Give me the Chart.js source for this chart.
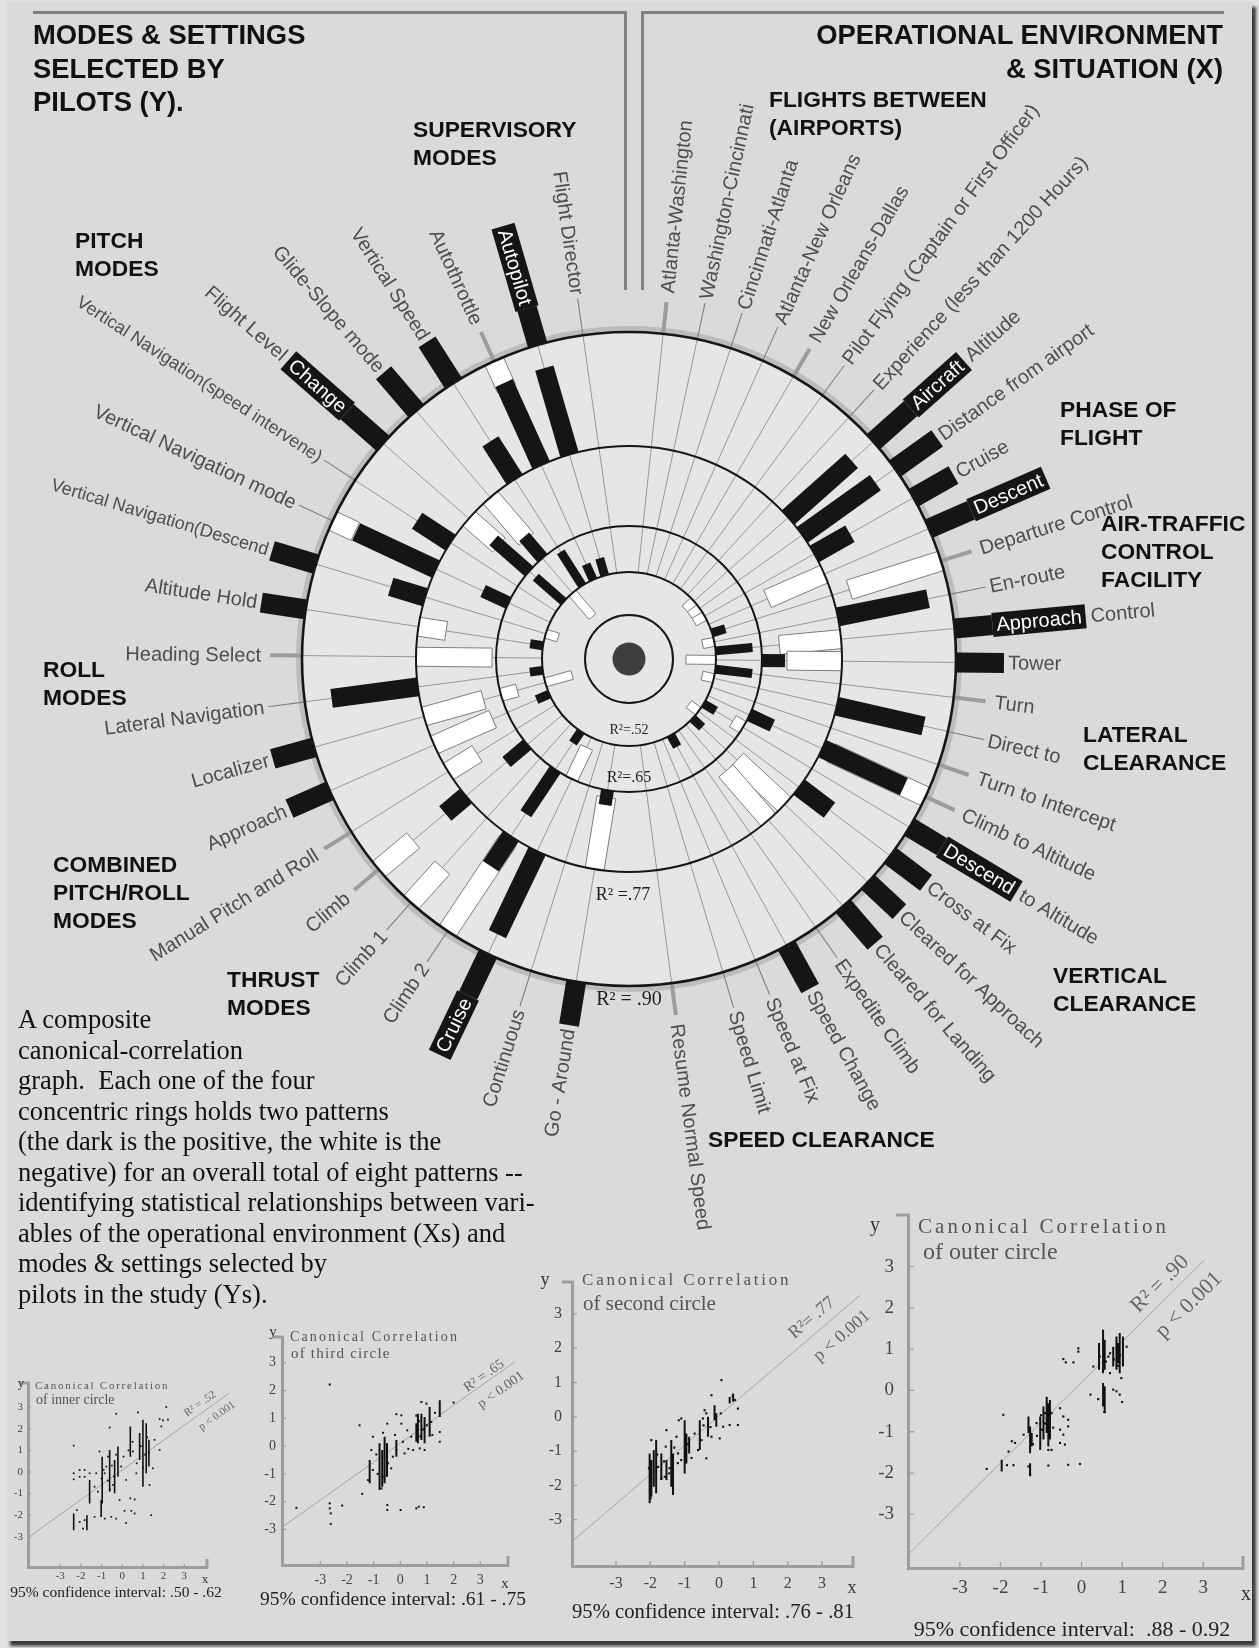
<!DOCTYPE html>
<html>
<head>
<meta charset="utf-8">
<script src="https://cdn.jsdelivr.net/npm/chart.js@4/dist/chart.umd.min.js"></script>
<style>
  html, body { margin: 0; padding: 0; background: #e2e2e3; }
  #page { position: relative; width: 1259px; height: 1648px; overflow: hidden; background: #e2e2e3; }
  #panel { position: absolute; left: 6px; top: 2px; width: 1246px; height: 1639px; background: #d9dadc; box-shadow: 4px 5px 3px #3a3a3a; }
  canvas { position: absolute; }
  .head { position: absolute; font-family: "Liberation Sans", Arial, sans-serif; font-weight: bold; font-size: 22.8px; line-height: 28px; color: #111; white-space: nowrap; }
  .big { font-size: 27.4px; line-height: 33.5px; }
  .rule { position: absolute; background: #808080; }
  #desc { position: absolute; left: 18px; top: 1004px; font-family: "Liberation Serif", "Times New Roman", serif; font-size: 26.5px; line-height: 30.5px; color: #111; white-space: nowrap; }
</style>
</head>
<body>
<div id="page">
  <div id="panel"></div>
  <canvas id="wheel" width="1259" height="1648" style="left:0;top:0"></canvas>

  <div class="rule" style="left:33px;top:11px;width:594px;height:3px"></div>
  <div class="rule" style="left:624px;top:11px;width:3px;height:279px"></div>
  <div class="rule" style="left:641px;top:11px;width:3px;height:279px"></div>
  <div class="rule" style="left:641px;top:11px;width:583px;height:3px"></div>

  <div class="head big" style="left:33px;top:18px">MODES &amp; SETTINGS<br>SELECTED BY<br>PILOTS (Y).</div>
  <div class="head big" style="right:36px;top:18px;text-align:right">OPERATIONAL ENVIRONMENT<br>&amp; SITUATION (X)</div>
  <div class="head" style="left:413px;top:115px">SUPERVISORY<br>MODES</div>
  <div class="head" style="left:75px;top:226px">PITCH<br>MODES</div>
  <div class="head" style="left:769px;top:85px">FLIGHTS BETWEEN<br>(AIRPORTS)</div>
  <div class="head" style="left:1060px;top:395px">PHASE OF<br>FLIGHT</div>
  <div class="head" style="left:1101px;top:509px">AIR-TRAFFIC<br>CONTROL<br>FACILITY</div>
  <div class="head" style="left:43px;top:655px">ROLL<br>MODES</div>
  <div class="head" style="left:1083px;top:720px">LATERAL<br>CLEARANCE</div>
  <div class="head" style="left:53px;top:850px">COMBINED<br>PITCH/ROLL<br>MODES</div>
  <div class="head" style="left:1053px;top:961px">VERTICAL<br>CLEARANCE</div>
  <div class="head" style="left:227px;top:965px">THRUST<br>MODES</div>
  <div class="head" style="left:708px;top:1125px">SPEED CLEARANCE</div>

  <div id="desc">A composite<br>canonical-correlation<br>graph.&nbsp; Each one of the four<br>concentric rings holds two patterns<br>(the dark is the positive, the white is the<br>negative) for an overall total of eight patterns --<br>identifying statistical relationships between vari-<br>ables of the operational environment (Xs) and<br>modes &amp; settings selected by<br>pilots in the study (Ys).</div>

  <canvas id="plot1"></canvas>
  <canvas id="plot2"></canvas>
  <canvas id="plot3"></canvas>
  <canvas id="plot4"></canvas>
</div>

<script>
'use strict';

/* #################### data #################### */
//  X variables, clockwise from the top (right half of the wheel)
const xVars = ['Atlanta-Washington', 'Washington-Cincinnati', 'Cincinnati-Atlanta', 'Atlanta-New Orleans',
  'New Orleans-Dallas', 'Pilot Flying (Captain or First Officer)', 'Experience (less than 1200 Hours)',
  'Aircraft Altitude', 'Distance from airport', 'Cruise', 'Descent', 'Departure Control', 'En-route',
  'Approach Control', 'Tower', 'Turn', 'Direct to', 'Turn to Intercept', 'Climb to Altitude',
  'Descend to Altitude', 'Cross at Fix', 'Cleared for Approach', 'Cleared for Landing', 'Expedite Climb',
  'Speed Change', 'Speed at Fix', 'Speed Limit', 'Resume Normal Speed'];

//  Y variables, clockwise from the bottom (left half of the wheel)
const yVars = ['Go - Around', 'Continuous', 'Cruise', 'Climb 2', 'Climb 1', 'Climb', 'Manual Pitch and Roll',
  'Approach', 'Localizer', 'Lateral Navigation', 'Heading Select', 'Altitude Hold',
  'Vertical Navigation(Descend', 'Vertical Navigation mode', 'Vertical Navigation(speed intervene)',
  'Flight Level Change', 'Glide-Slope mode', 'Vertical Speed', 'Autothrottle', 'Autopilot', 'Flight Director'];

//  loadings per ring (xVars then yVars): + dark bar outward, - white bar inward
const ring52 = [
  0, 0, 0, 0, 0, 0, 0, -0.12, -0.12, -0.12, 0, 0.14, -0.12, 0.37, -0.30, 0.37, -0.12, 0, 0, 0.14, -0.12, 0.13, 0, 0, 0.13, 0, 0, 0,
  0, 0, 0, 0.14, 0, 0, 0, 0.14, -0.28, 0.13, 0, 0.13, -0.13, 0, 0, 0.37, -0.31, 0.40, 0.17, 0.18, 0];
const ring65 = [
  0, 0, 0, 0, 0, 0, 0, 0, 0, 0, 0, 0, 0, 0, 0.23, 0, 0, 0, 0.25, -0.12, 0, 0, 0, 0, 0, 0, 0, 0,
  0.15, 0, -0.35, 0.53, 0, 0.27, 0, 0, -0.17, 0, 0, 0, 0, 0.28, 0, 0.47, 0.28, 0, 0, 0, 0];
const ring77 = [
  0, 0, 0, 0, 0, 0, 0, 0.85, 0.90, 0.41, -0.62, 0, 0.92, -0.62, -0.55, 0, 0.89, 0, 0.90, 0, 0.38, -0.65, -0.65, 0, 0, 0, 0, 0,
  -0.73, 0, 0.92, 0.36, 0, 0.27, -0.34, -0.64, -0.62, 0.87, -0.76, -0.28, 0.36, 0.88, 0.40, -0.40, -0.55, 0.45, 0.90, 0.90, 0];
const ring90 = [
  0, 0, 0, 0, 0, 0, 0, 0.50, 0.52, 0.46, 0.46, -0.96, 0, 0.38, 0.48, 0, 0, 0, -1.04, 0.38, 0.45, 0.43, 0.49, 0, 0.49, 0, 0, 0,
  0.44, 0, 0.46, -1.08, -0.47, -0.45, 0, 0.44, 0.43, 0, 0, 0.45, 0.46, -0.25, 0, 0.48, 0.50, 0.49, -0.30, 0.38, 0];
const ringNames = ['R²=.52', 'R²=.65', 'R² =.77', 'R² = .90'];

//  scatter plots: dots [x, y], vertical streaks [x, yFrom, yTo], fitted line ends
const axisTicks = [-3, -2, -1, 0, 1, 2, 3];

const p1Dots = [[-2.35, 1.22], [-2.35, -0.06], [-2.35, -0.34], [-2.06, 0.09], [-2.06, -0.22], [-1.82, 0.09],
  [-1.82, -0.22], [-2.19, -1.77], [-2.06, -2.31], [-1.82, -2.23], [-1.90, -2.62], [-1.34, -2.08], [-0.85, -2.16],
  [-0.53, -2.08], [-0.29, -2.16], [0.11, -1.80], [0.44, -1.80], [0.60, -1.92], [0.19, -2.36], [1.40, -2.00],
  [0.39, -1.22], [0.60, -1.27], [-0.61, 2.06], [-0.29, 2.70], [0.76, 2.76], [2.13, 3.01], [1.81, 2.45],
  [1.97, 2.39], [2.21, 2.42], [1.89, 2.11], [1.81, 1.02], [1.56, 1.49], [1.48, 0.17], [-1.10, 0.95],
  [-0.85, -0.06], [-1.34, -0.68], [-1.18, -0.91], [-0.45, -0.60], [-0.05, 0.25], [0.06, 0.71], [0.52, 0.95],
  [0.68, -0.06], [0.19, -0.37], [1.32, -0.60], [-0.77, 0.25], [-0.13, -1.30], [-0.69, 0.71], [-1.26, -0.06],
  [-1.58, -0.06], [-0.50, 0.30], [-0.40, -0.20], [-0.70, -0.40], [-0.90, 0.10], [0.90, 1.20], [1.10, 0.80],
  [0.70, 0.40], [1.20, 1.60], [0.50, 1.40], [1.00, 0.20], [-0.30, 0.80], [-1.00, -0.30], [1.30, 0.90],
  [0.30, 1.00], [-0.60, -0.80]];
const p1Streaks = [[-2.35, -1.92, -2.70], [-1.58, -0.37, -1.46], [-1.71, -2.00, -2.70], [-0.97, 0.71, -1.46],
  [-0.61, 1.02, -0.91], [-0.37, 0.56, -0.99], [-0.21, 1.18, -0.22], [0.39, 2.11, 0.71], [0.84, 1.80, 0.56],
  [1.00, 2.42, -0.68], [1.16, 2.26, -0.06], [1.29, 1.49, 0.25], [-1.02, -1.30, -2.08]];
const p1Fit = [[-4.56, -3.04], [5.19, 3.66]];

const p2Dots = [[-2.65, 2.22], [-1.53, 0.75], [-3.90, -2.22], [-2.65, -2.06], [-2.65, -2.24], [-2.61, -2.42],
  [-2.18, -2.14], [-2.61, -2.80], [-1.43, -1.72], [-0.49, -2.12], [-0.49, -2.30], [0.01, -2.30], [0.60, -2.24],
  [0.69, -2.18], [0.88, -2.20], [-0.49, 0.81], [-0.65, 0.48], [-1.03, 0.34], [-0.15, 1.15], [0.04, 1.11],
  [0.04, 0.81], [0.26, 0.57], [0.41, 0.34], [0.48, -0.14], [0.16, -0.26], [-0.28, -0.38], [-0.15, -0.14],
  [0.10, 0.16], [0.91, -0.14], [0.73, -0.08], [0.98, 1.53], [0.79, 1.59], [2.00, 1.57], [1.48, 0.51],
  [1.48, 0.16], [1.16, 0.87], [-1.09, -0.14], [-1.03, -0.86], [-1.21, -1.22], [-0.71, -1.52], [-0.46, -0.62],
  [-0.34, -0.80], [0.70, 0.90], [0.85, 0.60], [1.00, 0.75], [0.60, 1.10], [1.20, 0.40], [0.75, 0.35],
  [-0.90, -0.30], [-0.85, -1.00], [-0.60, -1.10], [-0.20, 0.40], [0.30, -0.10], [1.30, 1.20]];
const p2Streaks = [[-0.78, 0.10, -1.58], [-0.68, -0.14, -1.46], [-0.59, 0.34, -1.34], [-0.50, 0.10, -1.10],
  [-1.15, -0.50, -1.34], [0.66, 1.17, 0.10], [0.79, 1.17, 0.22], [0.91, 1.05, 0.10], [1.10, 1.41, 0.34],
  [1.48, 1.65, 1.05], [-0.15, 0.22, -0.38], [0.60, 0.82, 0.16]];
const p2Fit = [[-4.44, -2.92], [4.29, 3.03]];

const p3Dots = [[-0.22, 0.63], [0.07, 1.07], [-0.42, 0.19], [-0.37, 0.10], [-0.47, -0.05], [-1.10, -0.05],
  [-1.17, -0.10], [-1.53, -0.39], [-1.55, -0.87], [-1.24, -0.58], [-1.19, -1.07], [-1.10, -1.26], [-0.71, -0.49],
  [-0.51, -0.68], [-0.37, -1.21], [-0.61, -0.97], [-0.22, -0.58], [0.02, -0.63], [0.12, -0.29], [0.31, -0.24],
  [0.55, -0.24], [0.46, 0.49], [0.55, 0.24], [-1.58, -1.75], [-1.68, -1.80], [-1.44, -1.50], [-1.78, -1.46],
  [-1.97, -0.68], [-2.04, -1.50], [-1.99, -2.38], [-1.60, -1.30], [-1.80, -1.10], [-1.30, -0.90], [-0.90, -0.80],
  [-0.80, -1.20], [-0.45, -0.25], [-0.25, -0.30], [0.05, 0.10], [0.40, 0.60], [-1.45, -1.65], [-1.20, -1.35]];
const p3Streaks = [[-2.02, -1.07, -2.52], [-1.97, -1.26, -2.33], [-1.90, -0.97, -2.04], [-1.83, -0.68, -2.23],
  [-1.68, -1.07, -1.84], [-1.53, -1.26, -1.84], [-1.39, -0.68, -2.04], [-1.34, -1.07, -2.28], [-1.00, -0.10, -1.65],
  [-0.95, -0.49, -1.36], [-0.87, -0.58, -1.07], [-0.56, -0.10, -0.97], [-0.32, 0.00, -0.58], [-0.13, 0.34, -0.10],
  [-0.08, 0.10, -0.29], [0.31, 0.58, 0.39], [0.41, 0.68, 0.44]];
const p3Fit = [[-4.25, -3.61], [4.10, 3.54]];

const p4Dots = [[-0.08, 1.02], [-0.08, 0.94], [-0.45, 0.76], [-0.39, 0.68], [-0.20, 0.68], [-1.93, -0.59],
  [0.22, -0.10], [0.41, -0.21], [0.78, 0.02], [0.86, -0.02], [0.94, -0.10], [1.00, -0.28], [0.56, -0.52],
  [-0.53, -0.43], [-0.45, -0.63], [-0.33, -0.71], [-0.33, -0.87], [-0.53, -0.95], [-0.45, -1.07], [-0.53, -1.27],
  [-0.41, -1.31], [-0.82, -1.44], [-0.74, -1.44], [-1.72, -1.23], [-1.64, -1.27], [-1.80, -1.48], [-2.34, -1.90],
  [-1.84, -1.81], [-1.68, -1.81], [-1.31, -1.84], [-1.27, -2.04], [-0.82, -1.82], [-0.33, -1.80], [-0.04, -1.78],
  [-1.43, -1.07], [-1.11, -0.79], [-0.74, -0.55], [-0.98, -0.95], [-0.90, -0.55], [0.29, 0.58], [0.66, 0.82],
  [1.11, 1.06], [0.45, 0.82], [0.70, 0.42], [0.98, 0.30], [0.60, 0.70], [0.70, 0.90], [0.80, 0.75], [0.90, 0.60],
  [0.55, 0.95], [0.95, 0.85], [-0.90, -0.80], [-0.80, -0.50], [-1.10, -1.10], [-1.20, -1.30], [-0.70, -0.90],
  [-1.00, -0.60]];
const p4Streaks = [[0.53, 1.47, 0.42], [0.57, 1.23, 0.50], [0.43, 1.15, 0.50], [0.86, 1.31, 0.50],
  [0.94, 1.39, 0.42], [1.02, 1.31, 0.58], [0.90, 1.15, 0.66], [0.78, 1.06, 0.58], [0.53, 0.18, -0.39],
  [0.57, 0.10, -0.55], [-0.86, -0.15, -1.03], [-0.82, -0.31, -1.36], [-0.78, -0.23, -1.19], [-0.94, -0.39, -1.19],
  [-1.02, -0.63, -1.44], [-1.27, -0.87, -1.52], [-1.23, -1.03, -1.36], [-1.31, -0.63, -1.03], [-1.97, -1.68, -1.96],
  [-1.27, -1.76, -2.08]];
const p4Fit = [[-4.28, -3.98], [3.03, 3.16]];

/* #################### wheel layout & styles #################### */
const SANS = '"Liberation Sans", Arial, sans-serif';
const SERIF = '"Liberation Serif", "Times New Roman", serif';
const allVars = xVars.concat(yVars);
const ringSeries = [ring52, ring65, ring77, ring90];
const ringRadius = [87, 133, 213, 327];  //  base circle of each ring
const ringBarWidth = [9, 13, 19, 20];
const innerRadius = 44;
const LOADING_PX = 100;  //  radial length of a loading of 1.0
const ringLabelRadius = [71, 119, 236, 341];
const ringLabelSize = [14, 16, 18, 20];
//  spoke angles (degrees clockwise from the top), as spaced in the original
const xAngles = [6.0, 12.05, 18.1, 24.15, 30.2, 36.25, 42.3, 48.35, 54.4, 60.45, 66.5, 72.55, 78.6, 84.65,
  90.6, 96.75, 102.8, 108.85, 114.9, 120.95, 127.0, 133.05, 139.1, 145.15, 151.2, 157.25, 163.3, 172.5];
const yAngleStart = 189.3, yAngleStep = 8.13;
const darkLabelX = { 'Aircraft Altitude': 'Aircraft', 'Descent': 'Descent', 'Approach Control': 'Approach', 'Descend to Altitude': 'Descend' };
const darkLabelY = { 'Cruise': 'Cruise', 'Flight Level Change': 'Change', 'Autopilot': 'Autopilot' };
const thickLeaderX = ['Atlanta-Washington', 'New Orleans-Dallas', 'Departure Control', 'Turn', 'Turn to Intercept', 'Climb to Altitude', 'Resume Normal Speed'];
const thickLeaderY = ['Climb', 'Manual Pitch and Roll', 'Heading Select', 'Autothrottle'];
const smallLabelY = ['Vertical Navigation(Descend', 'Vertical Navigation(speed intervene)'];

function spokeAngle(idx) {
  if (idx < xVars.length) return xAngles[idx];
  return yAngleStart + (idx - xVars.length) * yAngleStep;
}

//  rectangle corners of a radial bar, in data units (y up)
function barCorners(theta, r0, r1, half) {
  const t = theta * Math.PI / 180;
  const ux = Math.sin(t), uy = Math.cos(t);
  const nx = Math.cos(t), ny = -Math.sin(t);
  return [
    { x: r0 * ux + half * nx, y: r0 * uy + half * ny },
    { x: r1 * ux + half * nx, y: r1 * uy + half * ny },
    { x: r1 * ux - half * nx, y: r1 * uy - half * ny },
    { x: r0 * ux - half * nx, y: r0 * uy - half * ny }
  ];
}

let wheelDatasets = [];
ringSeries.forEach(function (series, ring) {
  series.forEach(function (v, idx) {
    if (!v) return;
    const base = ringRadius[ring];
    wheelDatasets.push({
      label: ringNames[ring] + ' ' + allVars[idx],
      data: barCorners(spokeAngle(idx), base, base + v * LOADING_PX, ringBarWidth[ring] / 2),
      positive: v > 0,
      showLine: false,
      pointRadius: 0,
      pointHoverRadius: 0
    });
  });
});

function geometry(chart) {
  const { x, y } = chart.scales;
  const cx = x.getPixelForValue(0), cy = y.getPixelForValue(0);
  const k = (x.getPixelForValue(100) - cx) / 100;
  return {
    cx: cx, cy: cy, k: k,
    at: function (idx, r) {
      const t = spokeAngle(idx) * Math.PI / 180;
      return [cx + Math.sin(t) * r * k, cy - Math.cos(t) * r * k];
    }
  };
}

const wheelPainter = {
  id: 'wheelPainter',
  beforeDatasetsDraw(chart) {
    const ctx = chart.ctx;
    const g = geometry(chart);
    const outer = ringRadius[3] * g.k;
    ctx.save();
    //  soft rim and the light disc
    ctx.beginPath();
    ctx.arc(g.cx, g.cy, outer + 3, 0, Math.PI * 2);
    ctx.strokeStyle = 'rgba(80,80,80,0.22)';
    ctx.lineWidth = 6;
    ctx.stroke();
    ctx.beginPath();
    ctx.arc(g.cx, g.cy, outer, 0, Math.PI * 2);
    ctx.fillStyle = '#e6e6e8';
    ctx.fill();

    //  spokes
    ctx.strokeStyle = '#8e8e8e';
    ctx.lineWidth = 0.9;
    allVars.forEach(function (name, idx) {
      const a = g.at(idx, ringRadius[0]);
      const b = g.at(idx, ringRadius[3]);
      ctx.beginPath();
      ctx.moveTo(a[0], a[1]);
      ctx.lineTo(b[0], b[1]);
      ctx.stroke();
    });

    //  leader lines for labels without an outer bar
    allVars.forEach(function (name, idx) {
      if (ring90[idx] > 0) return;
      const thick = idx < xVars.length ? thickLeaderX.includes(name) : thickLeaderY.includes(name);
      const a = g.at(idx, ringRadius[3] + (thick ? 1 : 0));
      const b = g.at(idx, ringRadius[3] + (thick ? 32 : 37));
      ctx.beginPath();
      ctx.moveTo(a[0], a[1]);
      ctx.lineTo(b[0], b[1]);
      ctx.strokeStyle = thick ? '#9c9c9c' : '#808080';
      ctx.lineWidth = thick ? 4 : 1.1;
      ctx.stroke();
    });
    ctx.restore();
  },

  afterDatasetsDraw(chart) {
    const ctx = chart.ctx;
    const g = geometry(chart);
    ctx.save();

    //  bars: white patterns first, dark ones on top
    [false, true].forEach(function (dark) {
      chart.data.datasets.forEach(function (ds, i) {
        if (ds.positive !== dark) return;
        const pts = chart.getDatasetMeta(i).data;
        ctx.beginPath();
        pts.forEach(function (p, j) {
          if (j === 0) ctx.moveTo(p.x, p.y); else ctx.lineTo(p.x, p.y);
        });
        ctx.closePath();
        ctx.fillStyle = dark ? '#151515' : '#ffffff';
        ctx.fill();
        if (!dark) {
          ctx.strokeStyle = '#7e7e7e';
          ctx.lineWidth = 1;
          ctx.stroke();
        }
      });
    });

    //  rings
    ctx.strokeStyle = '#161616';
    [innerRadius].concat(ringRadius).forEach(function (r, i) {
      ctx.beginPath();
      ctx.arc(g.cx, g.cy, r * g.k, 0, Math.PI * 2);
      ctx.lineWidth = i === 4 ? 2.6 : 2;
      ctx.stroke();
    });
    ctx.beginPath();
    ctx.arc(g.cx, g.cy, 16.5 * g.k, 0, Math.PI * 2);
    ctx.fillStyle = '#3e3e3e';
    ctx.fill();

    //  ring labels
    ctx.fillStyle = '#1e1e1e';
    ctx.textAlign = 'center';
    ctx.textBaseline = 'middle';
    ringNames.forEach(function (txt, i) {
      ctx.font = ringLabelSize[i] + 'px ' + SERIF;
      ctx.fillText(txt, g.cx + (i === 2 ? -6 : 0), g.cy + ringLabelRadius[i] * g.k);
    });

    //  variable labels
    allVars.forEach(function (name, idx) {
      const theta = spokeAngle(idx) * Math.PI / 180;
      const right = idx < xVars.length;
      const dark = right ? darkLabelX[name] : darkLabelY[name];
      const outerBar = ring90[idx];
      const r = outerBar > 0 ? ringRadius[3] + outerBar * LOADING_PX + (dark ? 0 : 4) : ringRadius[3] + 41;
      const p = g.at(idx, r);
      ctx.save();
      ctx.font = (!right && smallLabelY.includes(name) ? '18px ' : '20px ') + SANS;
      ctx.translate(p[0], p[1]);
      ctx.rotate(right ? theta - Math.PI / 2 : theta + Math.PI / 2);
      ctx.textBaseline = 'middle';
      if (dark) {
        const rest = name.replace(dark, '').trim();
        const w = ctx.measureText(dark).width + 8;
        ctx.fillStyle = '#151515';
        ctx.fillRect(right ? 0 : -w, -12, w, 24);
        ctx.fillStyle = '#ffffff';
        ctx.textAlign = right ? 'left' : 'right';
        ctx.fillText(dark, right ? 4 : -4, 1);
        if (rest) {
          ctx.fillStyle = '#4e4e4e';
          ctx.fillText(rest, right ? w + 5 : -(w + 5), 1);
        }
      } else {
        ctx.fillStyle = '#4e4e4e';
        ctx.textAlign = right ? 'left' : 'right';
        ctx.fillText(name, 0, 1);
      }
      ctx.restore();
    });
    ctx.restore();
  }
};

Chart.defaults.font.family = SANS;
Chart.defaults.animation = false;

new Chart(document.getElementById('wheel'), {
  type: 'scatter',
  data: { datasets: wheelDatasets },
  options: {
    responsive: false,
    events: [],
    layout: { padding: 0 },
    scales: {
      x: { type: 'linear', display: false, min: -629, max: 630 },
      y: { type: 'linear', display: false, min: -989, max: 659 }
    },
    plugins: { legend: { display: false }, tooltip: { enabled: false } }
  },
  plugins: [wheelPainter]
});

/* #################### scatter plots #################### */
const plotSpecs = [
  { id: 'plot1', box: [0, 1360, 250, 250], area: [28, 1383, 207, 1567], xr: [-4.56, 4.10], yr: [-4.40, 4.12],
    dots: p1Dots, streaks: p1Streaks, fit: p1Fit, dot: 1.2, streak: 1.6, tick: 11, yw: 24, xh: 22, ypad: 5, xpad: 3, tl: 3, stub: 8,
    texts: [
      { t: 'y', x: 21, y: 1384, s: 13 }, { t: 'x', x: 205, y: 1580, s: 13 },
      { t: 'Canonical Correlation', x: 35, y: 1386, s: 11, a: 'left', ls: 1.75, c: '#555' },
      { t: 'of inner circle', x: 36, y: 1400, s: 14, a: 'left', c: '#555' },
      { t: 'R² = .52', x: 200, y: 1404, s: 11, rot: -35.5, c: '#666' },
      { t: 'p < 0.001', x: 217, y: 1416, s: 11, rot: -35.5, c: '#666' },
      { t: '95% confidence interval: .50 - .62', x: 116, y: 1593, s: 15.5, c: '#222' }] },
  { id: 'plot2', box: [240, 1310, 300, 300], area: [282, 1337, 508, 1565], xr: [-4.44, 4.04], yr: [-4.28, 3.93],
    dots: p2Dots, streaks: p2Streaks, fit: p2Fit, dot: 1.4, streak: 2, tick: 14, yw: 26, xh: 24, ypad: 6, xpad: 7, tl: 4, stub: 9,
    texts: [
      { t: 'y', x: 273, y: 1332, s: 15 }, { t: 'x', x: 505, y: 1584, s: 15 },
      { t: 'Canonical Correlation', x: 290, y: 1337, s: 14, a: 'left', ls: 2.15, c: '#555' },
      { t: 'of third circle', x: 291, y: 1354, s: 15, a: 'left', ls: 1.2, c: '#555' },
      { t: 'R² = .65', x: 484, y: 1376, s: 14, rot: -35.3, c: '#666' },
      { t: 'p < 0.001', x: 501, y: 1390, s: 14, rot: -35.3, c: '#666' },
      { t: '95% confidence interval: .61 - .75', x: 393, y: 1600, s: 19.5, c: '#222' }] },
  { id: 'plot3', box: [530, 1255, 340, 380], area: [572, 1282, 853, 1566], xr: [-4.28, 3.90], yr: [-4.35, 3.93],
    dots: p3Dots, streaks: p3Streaks, fit: p3Fit, dot: 1.5, streak: 2, tick: 16, yw: 30, xh: 28, ypad: 10, xpad: 8, tl: 5, stub: 10,
    texts: [
      { t: 'y', x: 545, y: 1280, s: 18 }, { t: 'x', x: 852, y: 1588, s: 18 },
      { t: 'Canonical Correlation', x: 582, y: 1281, s: 17, a: 'left', ls: 2.8, c: '#555' },
      { t: 'of second circle', x: 583, y: 1304, s: 21, a: 'left', c: '#555' },
      { t: 'R²= .77', x: 812, y: 1318, s: 18, rot: -40.6, c: '#666' },
      { t: 'p < 0.001', x: 842, y: 1336, s: 18, rot: -40.6, c: '#666' },
      { t: '95% confidence interval: .76 - .81', x: 713, y: 1613, s: 20.7, c: '#222' }] },
  { id: 'plot4', box: [860, 1188, 395, 457], area: [908, 1215, 1243, 1568], xr: [-4.28, 3.98], yr: [-4.30, 4.25],
    dots: p4Dots, streaks: p4Streaks, fit: p4Fit, dot: 1.5, streak: 2, tick: 19, yw: 36, xh: 30, ypad: 14, xpad: 9, tl: 6, stub: 12,
    texts: [
      { t: 'y', x: 875, y: 1226, s: 20 }, { t: 'x', x: 1246, y: 1595, s: 20 },
      { t: 'Canonical Correlation', x: 918, y: 1227, s: 21, a: 'left', ls: 3.1, c: '#555' },
      { t: 'of outer circle', x: 923, y: 1253, s: 24, a: 'left', c: '#555' },
      { t: 'R² = .90', x: 1160, y: 1284, s: 22, rot: -44.8, c: '#666' },
      { t: 'p < 0.001', x: 1189, y: 1305, s: 22, rot: -44.8, c: '#666' },
      { t: '95% confidence interval:  .88 - 0.92', x: 1072, y: 1630, s: 22, c: '#222' }] }
];

//  axis stubs, inner tick marks and the text of each small plot
function plotDecor(spec) {
  return {
    id: 'plotDecor',
    afterDraw(chart) {
      const { ctx, chartArea: a, scales: { x, y } } = chart;
      ctx.save();
      ctx.strokeStyle = '#9d9d9d';
      ctx.lineWidth = 1.3;
      ctx.beginPath();
      axisTicks.forEach(function (v) {
        const px = x.getPixelForValue(v);
        ctx.moveTo(px, a.bottom);
        ctx.lineTo(px, a.bottom - spec.tl);
        const py = y.getPixelForValue(v);
        ctx.moveTo(a.left, py);
        ctx.lineTo(a.left + spec.tl, py);
      });
      ctx.stroke();
      ctx.lineWidth = 3;
      ctx.beginPath();
      ctx.moveTo(a.left - spec.stub, a.top);
      ctx.lineTo(a.left + 1.5, a.top);
      ctx.moveTo(a.right, a.bottom + 1.5);
      ctx.lineTo(a.right, a.bottom - spec.stub);
      ctx.stroke();

      ctx.textBaseline = 'middle';
      spec.texts.forEach(function (tx) {
        ctx.save();
        ctx.translate(tx.x - spec.box[0], tx.y - spec.box[1]);
        if (tx.rot) ctx.rotate(tx.rot * Math.PI / 180);
        ctx.font = tx.s + 'px ' + SERIF;
        ctx.letterSpacing = (tx.ls || 0) + 'px';
        ctx.fillStyle = tx.c || '#333';
        ctx.textAlign = tx.a || 'center';
        ctx.fillText(tx.t, 0, 0);
        ctx.restore();
      });
      ctx.restore();
    }
  };
}

function drawPlot(spec) {
  const canvas = document.getElementById(spec.id);
  const [left, top, width, height] = spec.box;
  const [al, at, ar, ab] = spec.area;
  canvas.width = width;
  canvas.height = height;
  canvas.style.left = left + 'px';
  canvas.style.top = top + 'px';

  let streakPoints = [];
  spec.streaks.forEach(function (s) {
    streakPoints.push({ x: s[0], y: s[1] }, { x: s[0], y: s[2] }, { x: s[0], y: null });
  });
  const tickFont = { family: SERIF, size: spec.tick };
  const axisBorder = { display: true, color: '#9d9d9d', width: 3 };

  new Chart(canvas, {
    type: 'scatter',
    data: {
      datasets: [
        { label: 'cases', data: spec.dots.map(function (d) { return { x: d[0], y: d[1] }; }),
          pointStyle: 'rect', pointRadius: spec.dot, backgroundColor: '#111', borderWidth: 0 },
        { label: 'streaks', data: streakPoints, showLine: true, spanGaps: false,
          borderColor: '#111', borderWidth: spec.streak, pointRadius: 0 },
        { label: 'fit', data: spec.fit.map(function (d) { return { x: d[0], y: d[1] }; }), showLine: true,
          borderColor: '#a5a5a5', borderWidth: 1, pointRadius: 0, clip: false }
      ]
    },
    options: {
      responsive: false,
      events: [],
      layout: { padding: { left: al - left - spec.yw, top: at - top, right: left + width - ar, bottom: top + height - ab - spec.xh } },
      scales: {
        x: {
          type: 'linear', min: spec.xr[0], max: spec.xr[1],
          afterBuildTicks: function (s) { s.ticks = axisTicks.map(function (v) { return { value: v }; }); },
          afterFit: function (s) { s.height = spec.xh; },
          grid: { display: false, drawTicks: false },
          border: axisBorder,
          ticks: { font: tickFont, color: '#444', padding: spec.xpad, maxRotation: 0, autoSkip: false }
        },
        y: {
          type: 'linear', min: spec.yr[0], max: spec.yr[1],
          afterBuildTicks: function (s) { s.ticks = axisTicks.map(function (v) { return { value: v }; }); },
          afterFit: function (s) { s.width = spec.yw; },
          grid: { display: false, drawTicks: false },
          border: axisBorder,
          ticks: { font: tickFont, color: '#444', padding: spec.ypad, autoSkip: false }
        }
      },
      plugins: { legend: { display: false }, tooltip: { enabled: false } }
    },
    plugins: [plotDecor(spec)]
  });
}

plotSpecs.forEach(drawPlot);
</script>
</body>
</html>
